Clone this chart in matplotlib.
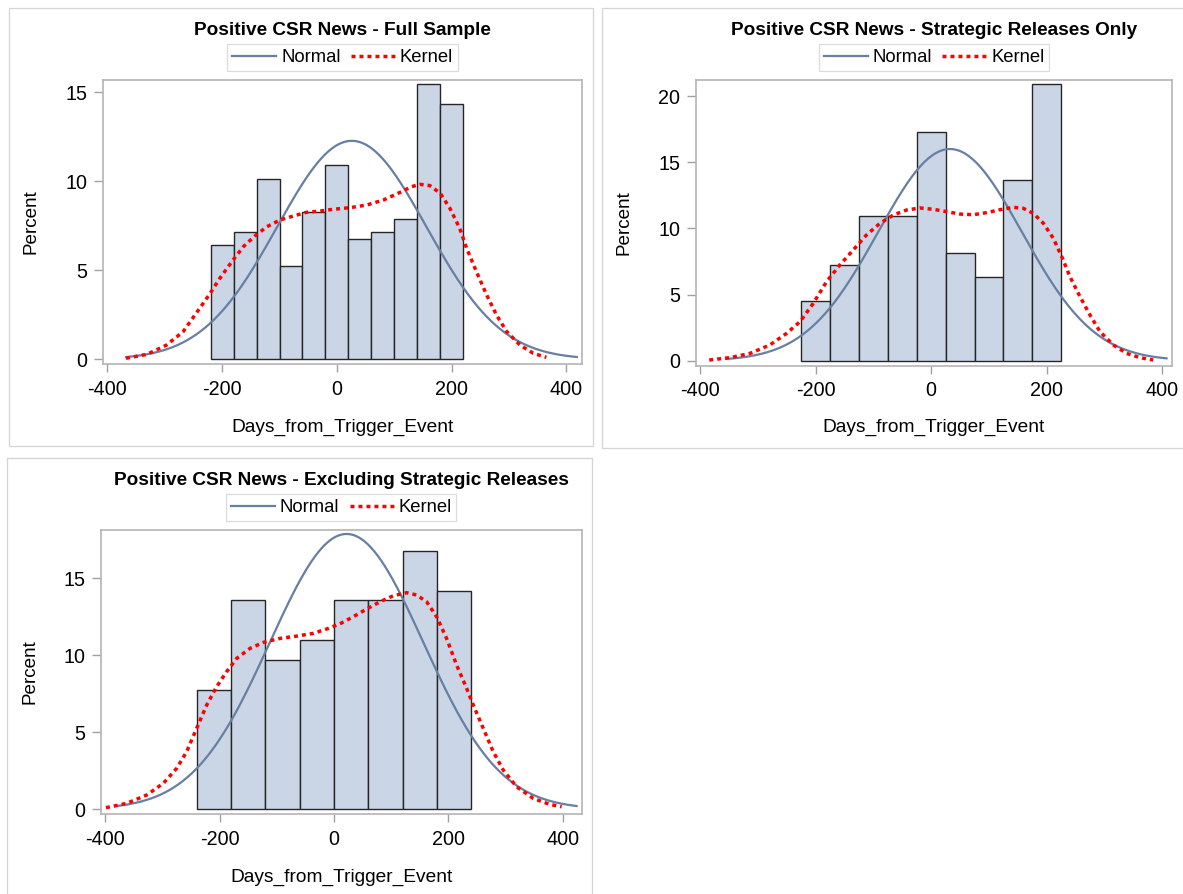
import numpy as np
import matplotlib
matplotlib.use("Agg")
import matplotlib.pyplot as plt
from matplotlib.lines import Line2D
from matplotlib.patches import Rectangle

plt.rcParams['font.family'] = ['Liberation Sans', 'DejaVu Sans']
plt.rcParams['axes.unicode_minus'] = False

W, H = 1183, 894

# ---------------- data ----------------
titles = ["Positive CSR News - Full Sample",
          "Positive CSR News - Strategic Releases Only",
          "Positive CSR News - Excluding Strategic Releases"]
x_label = "Days_from_Trigger_Event"
y_label = "Percent"
x_ticks = [-400, -200, 0, 200, 400]

# Panel 1: Full sample
p1_mid = [-200, -160, -120, -80, -40, 0, 40, 80, 120, 160, 200]
p1_pct = [6.40, 7.13, 10.15, 5.26, 8.30, 10.94, 6.78, 7.13, 7.90, 15.45, 14.33]
p1_bw = 40
p1_mu, p1_sigma = 26.0, 130.0
p1_norm_range = (-367, 418)
p1_kx = [-367.5, -331, -297, -268, -239, -221, -204, -183, -163, -143, -122, -99, -76, -53,
         -29.5, -6, 23, 52, 81, 110, 130, 145, 162, 180, 197, 214, 226, 243, 261, 278, 296,
         319, 342, 365]
p1_ky = [0.06, 0.28, 0.80, 1.55, 2.87, 3.70, 4.55, 5.49, 6.33, 6.93, 7.45, 7.83, 8.05, 8.26,
         8.33, 8.43, 8.52, 8.67, 8.95, 9.38, 9.70, 9.83, 9.76, 9.33, 8.48, 7.36, 6.24, 4.93,
         3.61, 2.49, 1.55, 0.80, 0.34, 0.11]
p1_yticks = [0, 5, 10, 15]

# Panel 2: Strategic releases only
p2_mid = [-200, -150, -100, -50, 0, 50, 100, 150, 200]
p2_pct = [4.55, 7.27, 10.91, 10.91, 17.27, 8.18, 6.36, 13.64, 20.91]
p2_bw = 50
p2_mu, p2_sigma = 32.5, 124.6
p2_norm_range = (-355, 407)
p2_kx = [-384, -348, -313.5, -279, -250, -227, -204, -181, -158, -135, -112, -88.6, -65.5,
         -42.4, -19.4, 3.7, 26.8, 49.8, 72.9, 96, 119, 142, 159.4, 176.7, 194, 211.3, 225.7,
         240, 257.4, 274.7, 292, 315, 338, 361, 384]
p2_ky = [0.05, 0.23, 0.55, 1.19, 2.07, 2.95, 4.34, 5.98, 7.24, 8.37, 9.51, 10.39, 11.02,
         11.40, 11.55, 11.45, 11.27, 11.09, 11.04, 11.20, 11.42, 11.60, 11.52, 11.14, 10.39,
         9.25, 7.87, 6.35, 4.84, 3.45, 2.19, 1.19, 0.55, 0.23, 0.05]
p2_yticks = [0, 5, 10, 15, 20]

# Panel 3: Excluding strategic releases
p3_mid = [-210, -150, -90, -30, 30, 90, 150, 210]
p3_pct = [7.74, 13.55, 9.68, 10.97, 13.55, 13.55, 16.77, 14.19]
p3_bw = 60
p3_mu, p3_sigma = 21.9, 134.0
p3_norm_range = (-383, 424)
p3_kx = [-398.8, -362.7, -327.7, -298.6, -275.3, -257.8, -240.3, -222.8, -205.4, -187.9,
         -170.4, -147.1, -123.8, -94.6, -65.5, -36.4, -13.1, 10.3, 33.6, 56.9, 80.2, 103.5,
         126.8, 144.3, 161.8, 179.3, 196.7, 214.2, 231.7, 243.4, 260.8, 278.3, 295.8, 319,
         348.3, 377.4, 397.8]
p3_ky = [0.09, 0.37, 0.91, 1.67, 2.64, 3.72, 5.24, 6.75, 7.94, 8.92, 9.78, 10.43, 10.82,
         11.08, 11.23, 11.41, 11.69, 12.03, 12.49, 12.99, 13.46, 13.85, 14.05, 13.90, 13.46,
         12.49, 11.08, 9.35, 7.84, 6.75, 5.24, 3.72, 2.53, 1.45, 0.69, 0.30, 0.15]
p3_yticks = [0, 5, 10, 15]

# ---------------- layout (pixels) ----------------
panels = [
    dict(title=titles[0], mid=p1_mid, pct=p1_pct, bw=p1_bw, mu=p1_mu, sigma=p1_sigma,
         nr=p1_norm_range, kx=p1_kx, ky=p1_ky, yticks=p1_yticks,
         box=(103.3, 79.7, 581.7, 364.3), xlim=(-407, 426.5), ylim=(-0.28, 15.71),
         frame=(9.3, 8, 593.3, 446), top=0, ylab_x=31),
    dict(title=titles[1], mid=p2_mid, pct=p2_pct, bw=p2_bw, mu=p2_mu, sigma=p2_sigma,
         nr=p2_norm_range, kx=p2_kx, ky=p2_ky, yticks=p2_yticks,
         box=(695.7, 80, 1172.3, 365.7), xlim=(-407.4, 417), ylim=(-0.38, 21.23),
         frame=(601.7, 8, 1190, 447.7), top=0, ylab_x=624),
    dict(title=titles[2], mid=p3_mid, pct=p3_pct, bw=p3_bw, mu=p3_mu, sigma=p3_sigma,
         nr=p3_norm_range, kx=p3_kx, ky=p3_ky, yticks=p3_yticks,
         box=(101, 529.7, 581.7, 814.3), xlim=(-407.5, 432.9), ylim=(-0.34, 18.14),
         frame=(7.3, 458.3, 591.7, 900), top=450, ylab_x=30),
]

FILL = '#cad5e5'
EDGE = '#262626'
NORMAL_C = '#667fa2'
KERNEL_C = '#ff0000'
SPINE_C = '#b4b4b4'
FRAME_C = '#d4d4d4'
KSTYLE = (0, (1.15, 1.15))
KLW = 2.5

fig = plt.figure(figsize=(W / 100, H / 100), dpi=100)
fig.patch.set_facecolor('white')


def fx(px):
    return px / W


def fy(py):
    return 1 - py / H


for p in panels:
    x0, y0, x1, y1 = p['frame']
    fig.add_artist(Rectangle((fx(x0), fy(y1)), fx(x1) - fx(x0), fy(y0) - fy(y1),
                             transform=fig.transFigure, fill=False, edgecolor=FRAME_C,
                             linewidth=0.9))

    bx0, by0, bx1, by1 = p['box']
    ax = fig.add_axes([fx(bx0), fy(by1), fx(bx1) - fx(bx0), fy(by0) - fy(by1)])
    ax.bar(p['mid'], p['pct'], width=p['bw'], color=FILL, edgecolor=EDGE, linewidth=1.0,
           zorder=2)
    xs = np.linspace(p['nr'][0], p['nr'][1], 400)
    ys = 100 * p['bw'] * np.exp(-0.5 * ((xs - p['mu']) / p['sigma']) ** 2) / (p['sigma'] * np.sqrt(2 * np.pi))
    ax.plot(xs, ys, color=NORMAL_C, linewidth=1.6, zorder=3)
    ax.plot(p['kx'], p['ky'], color=KERNEL_C, linewidth=KLW, linestyle=KSTYLE,
            dash_capstyle='butt', zorder=4)
    ax.set_xlim(*p['xlim'])
    ax.set_ylim(*p['ylim'])
    ax.set_xticks(x_ticks)
    ax.set_yticks(p['yticks'])
    for s in ax.spines.values():
        s.set_color(SPINE_C)
        s.set_linewidth(1.2)
    ax.tick_params(axis='both', colors='#a0a0a0', labelcolor='black', labelsize=14.2,
                   width=1.0)
    ax.tick_params(axis='x', length=6.0, pad=5)
    ax.tick_params(axis='y', length=6.8, pad=4.5)

    cx = (bx0 + bx1) / 2
    cy = (by0 + by1) / 2
    top = p['top']
    fig.text(fx(cx), fy(top + 35), p['title'], ha='center', va='baseline',
             fontsize=13.7, fontweight='bold')
    fig.text(fx(cx), fy(top + 431.5), x_label, ha='center', va='baseline', fontsize=13.8)
    fig.text(fx(p['ylab_x']), fy(cy), y_label, ha='center', va='center', rotation=90,
             fontsize=13.6)

    handles = [Line2D([], [], color=NORMAL_C, linewidth=1.6),
               Line2D([], [], color=KERNEL_C, linewidth=KLW, linestyle=KSTYLE,
                      dash_capstyle='butt')]
    leg = ax.legend(handles, ['Normal', 'Kernel'], loc='center',
                    bbox_to_anchor=(fx(cx), fy(top + 57.5)), bbox_transform=fig.transFigure,
                    ncol=2, frameon=True, fancybox=False, fontsize=13.3,
                    handlelength=2.4, handletextpad=0.25, columnspacing=0.55,
                    borderpad=0.25, borderaxespad=0)
    leg.get_frame().set_edgecolor(FRAME_C)
    leg.get_frame().set_linewidth(0.9)

fig.savefig('out.png', dpi=100)
